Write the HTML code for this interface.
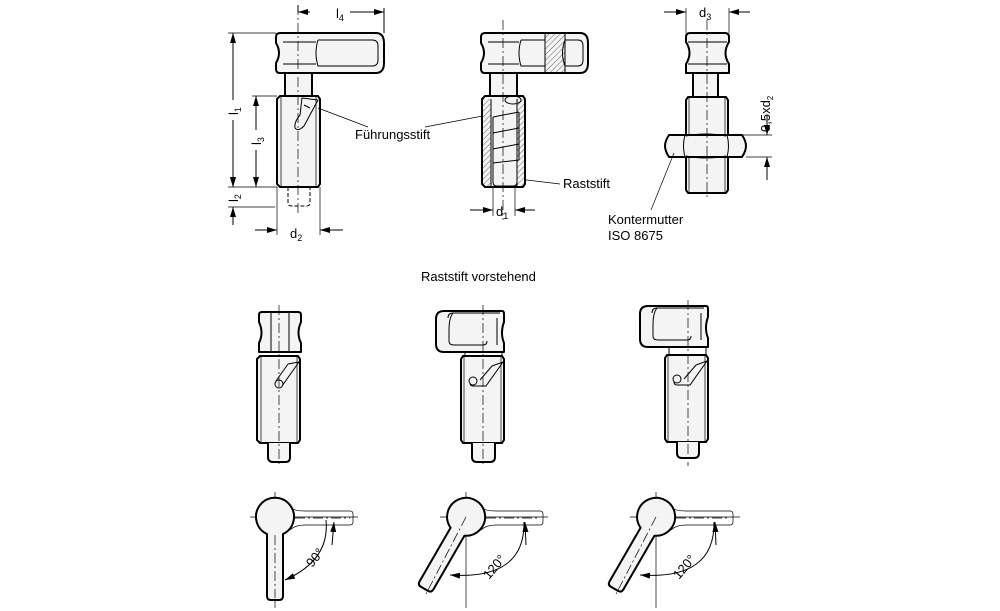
<!DOCTYPE html>
<html><head><meta charset="utf-8"><style>
html,body{margin:0;padding:0;background:#fff;}
svg{display:block;font-family:"Liberation Sans",sans-serif;}
.o{fill:#f4f4f4;stroke:#000;stroke-width:2;stroke-linejoin:round}
.t{fill:none;stroke:#000;stroke-width:1}
.c{fill:none;stroke:#000;stroke-width:0.7;stroke-dasharray:10 3 2 3}
.d{fill:none;stroke:#000;stroke-width:1;stroke-dasharray:4 2}
.th{fill:none;stroke:#000;stroke-width:0.7}
text{font-size:13px;fill:#000}
</style></head><body>
<svg width="1000" height="611" viewBox="0 0 1000 611">
<defs>
<marker id="a" markerWidth="10" markerHeight="6" refX="10" refY="3" orient="auto" markerUnits="userSpaceOnUse"><path d="M0,0 L10,3 L0,6z" fill="#000"/></marker>
<pattern id="h" width="4" height="4" patternUnits="userSpaceOnUse" patternTransform="rotate(45)"><line x1="0" y1="0" x2="0" y2="4" stroke="#000" stroke-width="0.6"/></pattern>
</defs>

<!-- VIEW 1 -->
<path class="o" d="M280,33 H376 Q384,33 384,43 V63 Q384,73 376,73 H280 Q276,73 276,69 V63 Q282,53 276,43 V37 Q276,33 280,33Z"/>
<path class="t" d="M283,42 H316 M283,64 H316 M318,40 H372 Q378,40 378,46 V60 Q378,66 372,66 H318 Q314,53 318,40"/>
<rect class="o" x="285" y="73" width="27" height="23"/>
<path class="o" d="M280,96 H318 L320,99 V184 L318,187 H280 L277,184 V99Z"/>
<path class="th" d="M281,97 V186 M316,97 V186"/>
<path class="d" d="M288,187 V203 Q288,206 292,206 H306 Q310,206 310,203 V187"/>
<path class="t" d="M302,98 L318,100 L304,126 Q298,132 295,128 Q294,122 300,115Z M304,105 L310,108"/>
<line class="c" x1="298" y1="5" x2="298" y2="215"/>
<line class="t" x1="384" y1="8" x2="384" y2="33"/><line class="t" x1="298" y1="5" x2="298" y2="12"/>
<line class="t" x1="310" y1="12" x2="298" y2="12" marker-end="url(#a)"/>
<line class="t" x1="350" y1="12" x2="384" y2="12" marker-end="url(#a)"/>
<text x="336" y="18">l<tspan font-size="9" dy="3">4</tspan></text>
<line class="th" x1="228" y1="33" x2="276" y2="33"/><line class="th" x1="228" y1="187" x2="277" y2="187"/>
<line class="th" x1="252" y1="96" x2="277" y2="96"/><line class="th" x1="228" y1="207" x2="275" y2="207"/>
<line class="t" x1="233" y1="100" x2="233" y2="33" marker-end="url(#a)"/>
<line class="t" x1="233" y1="120" x2="233" y2="187" marker-end="url(#a)"/>
<text x="228" y="115" transform="rotate(-90 233 110)">l<tspan font-size="9" dy="3">1</tspan></text>
<line class="t" x1="256" y1="130" x2="256" y2="96" marker-end="url(#a)"/>
<line class="t" x1="256" y1="150" x2="256" y2="187" marker-end="url(#a)"/>
<text x="251" y="145" transform="rotate(-90 256 140)">l<tspan font-size="9" dy="3">3</tspan></text>
<line class="t" x1="233" y1="170" x2="233" y2="187" marker-end="url(#a)"/>
<line class="t" x1="233" y1="225" x2="233" y2="207" marker-end="url(#a)"/>
<text x="228" y="202" transform="rotate(-90 233 197)">l<tspan font-size="9" dy="3">2</tspan></text>
<line class="th" x1="277" y1="187" x2="277" y2="235"/><line class="th" x1="320" y1="187" x2="320" y2="235"/>
<line class="t" x1="255" y1="230" x2="277" y2="230" marker-end="url(#a)"/>
<line class="t" x1="343" y1="230" x2="320" y2="230" marker-end="url(#a)"/>
<text x="290" y="238">d<tspan font-size="9" dy="3">2</tspan></text>

<!-- labels -->
<line class="th" x1="318" y1="108" x2="368" y2="127"/>
<line class="th" x1="425" y1="127" x2="493" y2="114"/>
<text x="355" y="139" font-size="12">Führungsstift</text>
<line class="th" x1="510" y1="178" x2="560" y2="184"/>
<text x="563" y="188" font-size="12">Raststift</text>

<!-- VIEW 2 -->
<path class="o" d="M485,33 H580 Q588,33 588,43 V63 Q588,73 580,73 H485 Q481,73 481,69 V63 Q487,53 481,43 V37 Q481,33 485,33Z"/>
<path class="t" d="M488,42 H519 M488,64 H519 M521,40 H545 V66 H521 Q517,53 521,40 M565,40 H578 Q583,40 583,46 V60 Q583,66 578,66 H565 Q560,53 565,40"/>
<rect x="545" y="33" width="20" height="40" fill="url(#h)" stroke="#000" stroke-width="1"/>
<rect class="o" x="490" y="73" width="27" height="23"/>
<path class="o" d="M485,96 H523 L525,99 V184 L523,187 H485 L482,184 V99Z"/>
<rect x="483" y="99" width="8" height="88" fill="url(#h)"/><rect x="517" y="99" width="7" height="88" fill="url(#h)"/>
<path class="t" d="M491,99 V187 M517,99 V187"/>
<path class="t" d="M493,117 L519,112 M493,133 L519,128 M493,149 L519,144 M493,163 L519,160 M493,117 V165 M519,112 V160"/>
<path class="t" d="M493,165 V182 Q493,186 497,186 H513 Q517,186 517,182 V165"/>
<ellipse class="t" cx="513" cy="100" rx="8" ry="4"/>
<line class="c" x1="503" y1="20" x2="503" y2="220"/>
<line class="th" x1="493" y1="187" x2="493" y2="216"/><line class="th" x1="515" y1="187" x2="515" y2="216"/>
<line class="t" x1="470" y1="210" x2="493" y2="210" marker-end="url(#a)"/>
<line class="t" x1="535" y1="210" x2="515" y2="210" marker-end="url(#a)"/>
<text x="496" y="216">d<tspan font-size="9" dy="3">1</tspan></text>

<!-- VIEW 3 -->
<path class="o" d="M690,33 H725 Q729,33 729,37 V42 Q722,53 729,64 V73 H686 V64 Q693,53 686,42 V37 Q686,33 690,33Z"/>
<path class="t" d="M688,42 H727 M688,64 H727"/>
<rect class="o" x="693" y="73" width="25" height="24"/>
<path class="o" d="M688,97 H726 L728,100 V190 L726,193 H688 L686,190 V100Z"/>
<path class="th" d="M689,98 V192 M725,98 V192"/>
<path class="o" d="M669,135 H742 Q746,141 746,146 Q746,151 742,157 H669 Q665,151 665,146 Q665,141 669,135Z"/>
<path class="t" d="M685,135 Q682,146 685,157 M727,135 Q730,146 727,157 M686,136 Q706,132 726,136 M686,156 Q706,160 726,156"/>
<line class="c" x1="707" y1="20" x2="707" y2="198"/>
<line class="th" x1="686" y1="8" x2="686" y2="33"/><line class="th" x1="729" y1="8" x2="729" y2="33"/>
<line class="t" x1="664" y1="12" x2="686" y2="12" marker-end="url(#a)"/>
<line class="t" x1="750" y1="12" x2="729" y2="12" marker-end="url(#a)"/>
<text x="699" y="17">d<tspan font-size="9" dy="3">3</tspan></text>
<line class="th" x1="729" y1="135" x2="772" y2="135"/><line class="th" x1="746" y1="157" x2="772" y2="157"/>
<line class="t" x1="767" y1="115" x2="767" y2="135" marker-end="url(#a)"/>
<line class="t" x1="767" y1="180" x2="767" y2="157" marker-end="url(#a)"/>
<text x="0" y="0" font-size="11" transform="translate(770,132) rotate(-90)">0,5xd<tspan font-size="8" dy="3">2</tspan></text>
<line class="th" x1="674" y1="153" x2="651" y2="210"/>
<text x="608" y="224" font-size="12">Kontermutter</text>
<text x="608" y="240" font-size="12">ISO 8675</text>

<text x="421" y="281" font-size="12">Raststift vorstehend</text>

<!-- BOTTOM ROW VIEWS -->
<path class="o" d="M262,312 H298 Q301,312 301,315 V322 Q296,333 301,343 V352 H259 V343 Q264,333 259,322 V315 Q259,312 262,312Z"/>
<rect class="t" x="271" y="312" width="18" height="40"/>
<path class="o" d="M260,356 H298 L300,359 V440 L298,443 H260 L257,440 V359Z"/>
<path class="th" d="M261,357 V442 M297,357 V442"/>
<path class="o" d="M268,443 V457 Q268,462 273,462 H286 Q290,462 290,457 V443"/>
<path class="t" d="M288,364 L299,362 L282,386 M288,364 L276,381"/><circle class="t" cx="279" cy="384" r="4"/>
<line class="c" x1="279" y1="305" x2="279" y2="466"/>

<path class="o" d="M444,311 H502 Q504,311 504,314 V322 Q500,333 504,343 V352 H444 Q436,352 436,344 V319 Q436,311 444,311Z"/>
<path class="t" d="M448,318 Q448,313 453,313 H500 M453,313 Q449,318 449,330 V341 Q449,345 454,345 H483 Q487,345 487,341 M497,318 V345"/>
<rect class="t" x="465" y="352" width="37" height="4"/>
<path class="o" d="M463,356 H502 L504,359 V440 L502,443 H463 L461,440 V359Z"/>
<path class="th" d="M464,357 V442 M501,357 V442"/>
<path class="o" d="M472,443 V457 Q472,462 477,462 H490 Q495,462 495,457 V443"/>
<path class="t" d="M492,366 L503,362 L486,386 H473 Q470,386 470,383 M492,366 L480,380"/><circle class="t" cx="473" cy="381" r="4"/>
<line class="c" x1="483" y1="305" x2="483" y2="466"/>

<path class="o" d="M648,306 H706 Q708,306 708,309 V317 Q704,328 708,338 V347 H648 Q640,347 640,339 V314 Q640,306 648,306Z"/>
<path class="t" d="M652,313 Q652,308 657,308 H704 M657,308 Q653,313 653,325 V336 Q653,340 658,340 H687 Q691,340 691,336 M701,313 V340"/>
<rect class="t" x="669" y="347" width="37" height="8"/>
<path class="o" d="M667,355 H706 L708,358 V439 L706,442 H667 L665,439 V358Z"/>
<path class="th" d="M668,356 V441 M705,356 V441"/>
<path class="o" d="M677,442 V453 Q677,458 682,458 H694 Q699,458 699,453 V442"/>
<path class="t" d="M696,365 L707,361 L690,385 H677 Q674,385 674,382 M696,365 L684,379"/><circle class="t" cx="677" cy="379" r="4"/>
<line class="c" x1="688" y1="300" x2="688" y2="466"/>

<!-- HANDLE TOP VIEWS -->
<!-- A 90 -->
<line class="th" x1="250" y1="517" x2="358" y2="517"/><line class="th" x1="275" y1="492" x2="275" y2="608"/>
<path class="th" d="M290,508 Q295,511 305,511 H350 Q353,511 353,514 V522 Q353,525 350,525 H305 Q295,525 290,530"/>
<line class="c" x1="295" y1="518" x2="350" y2="518"/>
<path class="o" d="M267,534 A19,19 0 1 1 283,534 V596 Q283,600 279,600 H271 Q267,600 267,596Z"/>
<line class="c" x1="275" y1="535" x2="275" y2="598"/>
<path class="t" d="M326,520 Q330,560 285,580" marker-end="url(#a)"/><line class="t" x1="332" y1="545" x2="334" y2="522" marker-end="url(#a)"/>
<text x="0" y="0" font-size="12" transform="translate(312,568) rotate(-50)">90°</text>
<!-- B 120 -->
<line class="th" x1="440" y1="517" x2="548" y2="517"/><line class="th" x1="466" y1="492" x2="466" y2="608"/>
<path class="th" d="M481,508 Q486,511 496,511 H540 Q543,511 543,514 V522 Q543,525 540,525 H496 Q486,525 481,530"/>
<line class="c" x1="486" y1="518" x2="540" y2="518"/>
<path class="o" transform="rotate(30 466 517)" d="M458,534 A19,19 0 1 1 474,534 V596 Q474,600 470,600 H462 Q458,600 458,596Z"/>
<line class="c" x1="466" y1="517" x2="426" y2="594"/>
<path class="t" d="M524,522 Q525,580 450,575" marker-end="url(#a)"/><line class="t" x1="526" y1="545" x2="525" y2="522" marker-end="url(#a)"/>
<text x="0" y="0" font-size="12" transform="translate(489,580) rotate(-50)">120°</text>
<!-- C 120 -->
<line class="th" x1="630" y1="517" x2="740" y2="517"/><line class="th" x1="656" y1="492" x2="656" y2="608"/>
<path class="th" d="M671,508 Q676,511 686,511 H730 Q733,511 733,514 V522 Q733,525 730,525 H686 Q676,525 671,530"/>
<line class="c" x1="676" y1="518" x2="730" y2="518"/>
<path class="o" transform="rotate(30 656 517)" d="M648,534 A19,19 0 1 1 664,534 V596 Q664,600 660,600 H652 Q648,600 648,596Z"/>
<line class="c" x1="656" y1="517" x2="616" y2="594"/>
<path class="t" d="M714,522 Q715,580 640,575" marker-end="url(#a)"/><line class="t" x1="716" y1="545" x2="715" y2="522" marker-end="url(#a)"/>
<text x="0" y="0" font-size="12" transform="translate(679,580) rotate(-50)">120°</text>
</svg>
</body></html>
